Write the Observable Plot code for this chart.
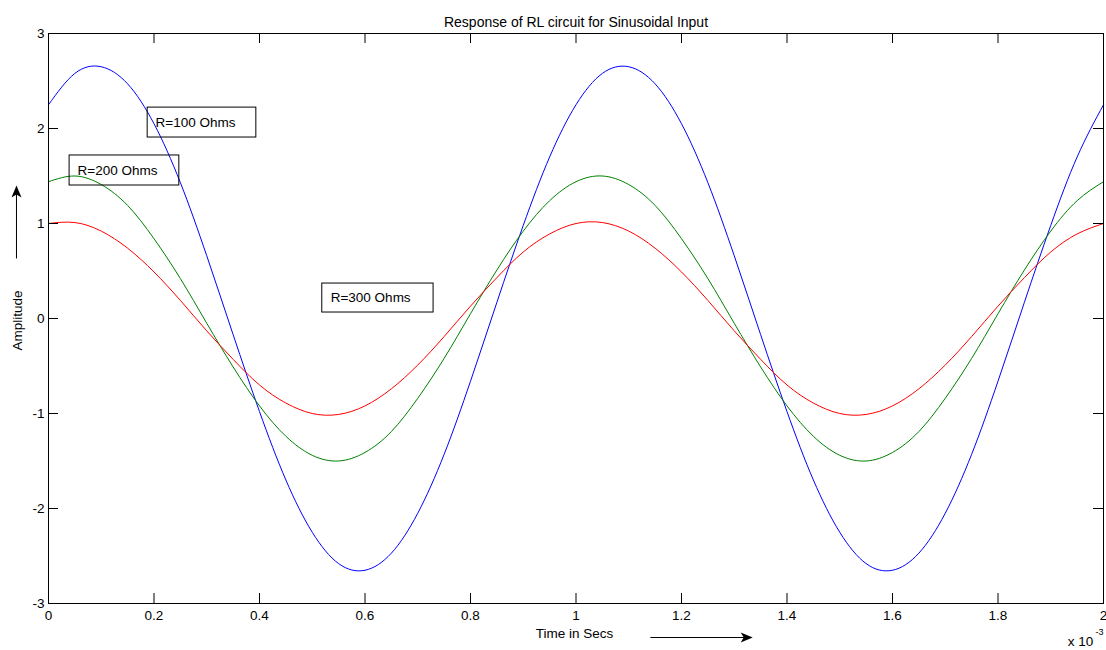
<!DOCTYPE html>
<html>
<head>
<meta charset="utf-8">
<script src="https://cdn.jsdelivr.net/npm/d3@7"></script>
<script src="https://cdn.jsdelivr.net/npm/@observablehq/plot@0.6"></script>
<style>
  html, body { margin: 0; padding: 0; background: #fff; }
  #chart { width: 1106px; height: 650px; }
</style>
</head>
<body>
<div id="chart"></div>
<script>
// ---- data (time in ms, i.e. x 10^-3 s) ----
const time = [0,0.05,0.1,0.15,0.2,0.25,0.3,0.35,0.4,0.45,0.5,0.55,0.6,0.65,0.7,0.75,0.8,0.85,0.9,0.95,
              1,1.05,1.1,1.15,1.2,1.25,1.3,1.35,1.4,1.45,1.5,1.55,1.6,1.65,1.7,1.75,1.8,1.85,1.9,1.95,2];
const r100 = [2.25,2.58,2.65,2.47,2.05,1.43,0.66,-0.17,-0.98,-1.70,-2.25,-2.58,-2.65,-2.47,-2.05,-1.43,-0.66,0.17,0.98,1.70,
              2.25,2.58,2.65,2.47,2.05,1.43,0.66,-0.17,-0.98,-1.70,-2.25,-2.58,-2.65,-2.47,-2.05,-1.43,-0.66,0.17,0.98,1.70,2.25];
const r200 = [1.44,1.50,1.41,1.19,0.84,0.42,-0.05,-0.51,-0.92,-1.24,-1.44,-1.50,-1.41,-1.19,-0.84,-0.42,0.05,0.51,0.92,1.24,
              1.44,1.50,1.41,1.19,0.84,0.42,-0.05,-0.51,-0.92,-1.24,-1.44,-1.50,-1.41,-1.19,-0.84,-0.42,0.05,0.51,0.92,1.24,1.44];
const r300 = [1.00,1.01,0.92,0.74,0.49,0.19,-0.13,-0.43,-0.70,-0.89,-1.00,-1.01,-0.92,-0.74,-0.49,-0.19,0.13,0.43,0.70,0.89,
              1.00,1.01,0.92,0.74,0.49,0.19,-0.13,-0.43,-0.70,-0.89,-1.00,-1.01,-0.92,-0.74,-0.49,-0.19,0.13,0.43,0.70,0.89,1.00];
const seriesNames = ["R=100 Ohms","R=200 Ohms","R=300 Ohms"];
const seriesColors = ["#0000ff","#008000","#ff0000"];
const xTicks = [0,0.2,0.4,0.6,0.8,1,1.2,1.4,1.6,1.8,2];
const yTicks = [-3,-2,-1,0,1,2,3];

// annotation boxes (data coordinates)
const boxes = [
  {label:"R=100 Ohms", x1:0.188, x2:0.394, y1:1.905, y2:2.22, tx:0.203, ty:2.06},
  {label:"R=200 Ohms", x1:0.040, x2:0.248, y1:1.40, y2:1.716, tx:0.055, ty:1.558},
  {label:"R=300 Ohms", x1:0.519, x2:0.730, y1:0.063, y2:0.368, tx:0.535, ty:0.221}
];

const rows = time.flatMap((t, i) => [
  {t, v: r100[i], s: seriesNames[0]},
  {t, v: r200[i], s: seriesNames[1]},
  {t, v: r300[i], s: seriesNames[2]}
]);

const arrowHead = {
  draw(ctx) {
    ctx.moveTo(0, 0);
    ctx.lineTo(-12, -5);
    ctx.lineTo(-9, 0);
    ctx.lineTo(-12, 5);
    ctx.closePath();
  }
};

const chart = Plot.plot({
  width: 1106,
  height: 650,
  marginLeft: 48,
  marginRight: 3,
  marginTop: 33,
  marginBottom: 47,
  x: {domain: [0, 2]},
  y: {domain: [-3, 3]},
  color: {domain: seriesNames, range: seriesColors},
  style: {fontFamily: "'Liberation Sans', Arial, sans-serif", fontSize: "13.5px", background: "white", color: "black", overflow: "visible"},
  marks: [
    Plot.line(rows, {x: "t", y: "v", z: "s", stroke: "s", strokeWidth: 1, curve: "natural"}),
    Plot.frame({stroke: "black", strokeWidth: 1}),
    Plot.tickX(xTicks, {x: d => d, insetTop: 560, stroke: "black"}),
    Plot.tickX(xTicks, {x: d => d, insetBottom: 560, stroke: "black"}),
    Plot.tickY(yTicks, {y: d => d, insetRight: 1045, stroke: "black"}),
    Plot.tickY(yTicks, {y: d => d, insetLeft: 1045, stroke: "black"}),
    Plot.axisX({ticks: xTicks, tickSize: 0, tickPadding: 7, tickFormat: d3.format("~g"), label: null, fontSize: 13.5}),
    Plot.axisY({ticks: yTicks, tickSize: 0, tickPadding: 4, tickFormat: d => String(d), label: null, fontSize: 13.5}),
    Plot.rect(boxes, {x1: "x1", x2: "x2", y1: "y1", y2: "y2", fill: "none", stroke: "black", strokeWidth: 1}),
    Plot.text(boxes, {x: "tx", y: "ty", text: "label", textAnchor: "start", fill: "black", fontSize: 13.5}),
    Plot.text(["Response of RL circuit for Sinusoidal Input"], {frameAnchor: "top", dy: -16, fill: "black", fontSize: 14}),
    // y axis title + arrow
    Plot.text(["Amplitude"], {x: -0.059, y: -0.02, rotate: -90, fill: "black", fontSize: 13.5}),
    Plot.link([{x1: -0.0607, y1: 0.632, x2: -0.0607, y2: 1.31}], {x1: "x1", y1: "y1", x2: "x2", y2: "y2", stroke: "black", strokeWidth: 1}),
    Plot.dot([{x: -0.0607, y: 1.40}], {x: "x", y: "y", symbol: arrowHead, fill: "black", stroke: "none", rotate: -90}),
    // x axis title + arrow
    Plot.text(["Time in Secs"], {x: 0.997, y: -3.316, fill: "black", fontSize: 13.5}),
    Plot.link([{x1: 1.141, y1: -3.358, x2: 1.32, y2: -3.358}], {x1: "x1", y1: "y1", x2: "x2", y2: "y2", stroke: "black", strokeWidth: 1}),
    Plot.dot([{x: 1.335, y: -3.358}], {x: "x", y: "y", symbol: arrowHead, fill: "black", stroke: "none"}),
    // exponent label
    Plot.text(["x 10"], {x: 1.932, y: -3.40, textAnchor: "start", fill: "black", fontSize: 13.5}),
    Plot.text(["-3"], {x: 1.985, y: -3.305, textAnchor: "start", fill: "black", fontSize: 9})
  ]
});
document.getElementById("chart").appendChild(chart);
</script>
</body>
</html>
